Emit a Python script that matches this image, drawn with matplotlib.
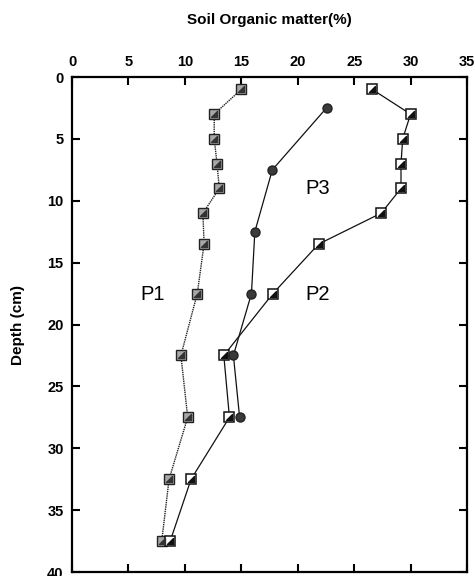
import numpy as np
import matplotlib.pyplot as plt
from matplotlib.path import Path

# depth (cm) and soil organic matter (%)
depth_p1 = [1, 3, 5, 7, 9, 11, 13.5, 17.5, 22.5, 27.5, 32.5, 37.5]
som_p1 = [15.0, 12.6, 12.6, 12.85, 13.05, 11.6, 11.7, 11.1, 9.65, 10.25, 8.6, 7.95]

depth_p2 = [1, 3, 5, 7, 9, 11, 13.5, 17.5, 22.5, 27.5, 32.5, 37.5]
som_p2 = [26.6, 30.0, 29.3, 29.15, 29.15, 27.4, 21.85, 17.8, 13.45, 13.95, 10.55, 8.7]

depth_p3 = [2.5, 7.5, 12.5, 17.5, 22.5, 27.5]
som_p3 = [22.55, 17.75, 16.2, 15.9, 14.3, 14.85]

x_ticks = [0, 5, 10, 15, 20, 25, 30, 35]
y_ticks = [0, 5, 10, 15, 20, 25, 30, 35, 40]

plt.rcParams["font.family"] = ["Liberation Sans", "DejaVu Sans"]
plt.rcParams["font.weight"] = "bold"

fig = plt.figure(figsize=(4.75, 5.76), dpi=100)
ax = fig.add_axes([0.1516, 0.0069, 0.8316, 0.8594])

# half-filled square marker (lower-right triangle dark)
tri = Path([(-1, -1), (1, -1), (1, 1), (-1, -1)],
           [Path.MOVETO, Path.LINETO, Path.LINETO, Path.CLOSEPOLY])

ax.plot(som_p1, depth_p1, linestyle=(0, (1, 0.6)), color="#222222", linewidth=1.0,
        marker="s", markersize=6.5, markerfacecolor="#a8a8a8",
        markeredgecolor="#222222", markeredgewidth=1.0, zorder=3)
ax.plot(som_p1, depth_p1, linestyle="none", marker=tri, markersize=4,
        color="#333333", zorder=4)

ax.plot(som_p2, depth_p2, linestyle="-", color="#111111", linewidth=0.9,
        marker="s", markersize=7, markerfacecolor="white",
        markeredgecolor="#111111", markeredgewidth=1.1, zorder=3)
ax.plot(som_p2, depth_p2, linestyle="none", marker=tri, markersize=4.5,
        color="#111111", zorder=4)

ax.plot(som_p3, depth_p3, linestyle="-", color="#111111", linewidth=0.9,
        marker="o", markersize=6.5, markerfacecolor="#3a3a3a",
        markeredgecolor="#222222", zorder=3)

ax.text(7.1, 17.6, "P1", fontsize=14.5, fontweight="normal", ha="center", va="center")
ax.text(21.8, 17.6, "P2", fontsize=14.5, fontweight="normal", ha="center", va="center")
ax.text(21.8, 9.0, "P3", fontsize=14.5, fontweight="normal", ha="center", va="center")

ax.set_xlim(0, 35)
ax.set_ylim(40, 0)
ax.set_xticks(x_ticks)
ax.set_yticks(y_ticks)
ax.xaxis.set_ticks_position("both")
ax.yaxis.set_ticks_position("both")
ax.xaxis.set_label_position("top")
ax.tick_params(axis="both", direction="in", length=6, width=1.5,
               labelsize=10.5, labeltop=True, labelbottom=False, pad=6)
for lab in ax.get_xticklabels() + ax.get_yticklabels():
    lab.set_fontweight("bold")
for sp in ax.spines.values():
    sp.set_linewidth(1.6)

ax.set_xlabel("Soil Organic matter(%)", fontsize=11, fontweight="bold", labelpad=22)
ax.set_ylabel("Depth (cm)", fontsize=11, fontweight="bold", labelpad=16)

fig.savefig("out.png", dpi=100)
